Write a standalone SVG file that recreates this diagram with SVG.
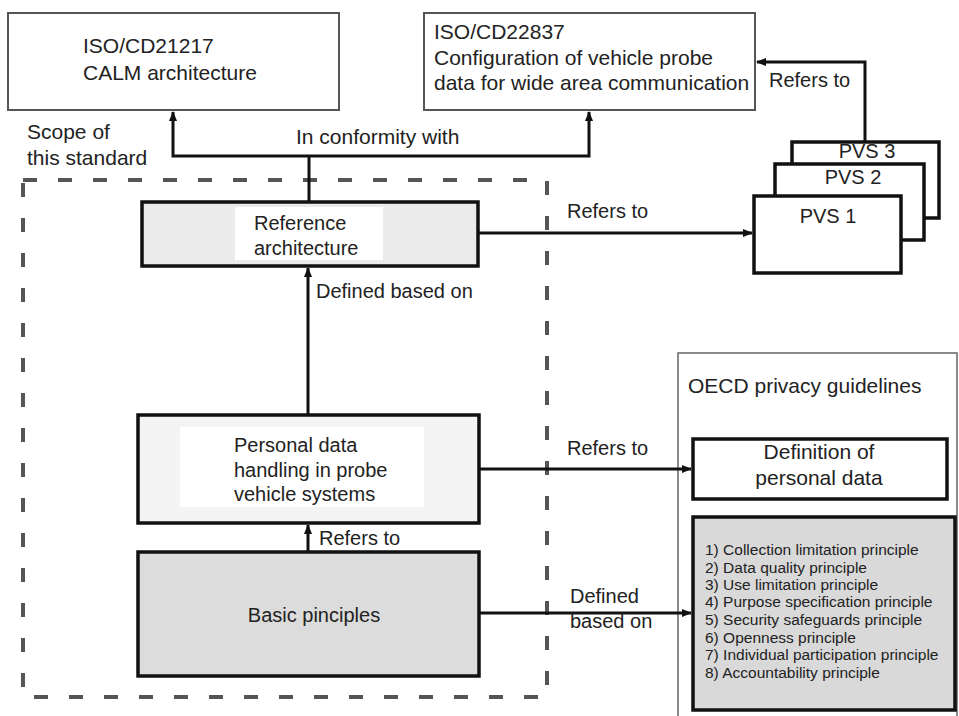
<svg xmlns="http://www.w3.org/2000/svg" width="959" height="716" viewBox="0 0 959 716">
<defs>
<style>
text{font-family:"Liberation Sans",Arial,sans-serif;fill:#222;}
.t21{font-size:21px;}
.t20{font-size:20px;}
.t15{font-size:15.5px;}
.iso{fill:#fff;stroke:#555;stroke-width:2;}
.node{stroke:#111;stroke-width:3.5;}
.pvs{fill:#fff;stroke:#111;stroke-width:3.5;}
.conn{fill:none;stroke:#111;stroke-width:3;}
.scope{fill:none;stroke:#555;stroke-width:4;stroke-dasharray:14 21;}
.outer{fill:none;stroke:#666;stroke-width:1.5;}
</style>
<marker id="ah" markerUnits="userSpaceOnUse" markerWidth="10" markerHeight="10" viewBox="0 0 10 10" refX="9" refY="5" orient="auto">
<path d="M0,1 L10,5 L0,9 Z" fill="#111"/>
</marker>
</defs>
<rect width="959" height="716" fill="#fff"/>

<!-- scope of this standard (dashed) -->
<rect class="scope" x="23" y="180" width="524" height="517"/>
<text class="t21" x="27" y="139">Scope of</text>
<text class="t21" x="27" y="165">this standard</text>

<!-- OECD outer -->
<g id="oecd">
<path class="outer" d="M678,716 V353 H957 V716"/>
<text class="t21" x="688" y="393">OECD privacy guidelines</text>
</g>

<g id="iso21217">
<rect class="iso" x="8" y="13" width="331" height="97"/>
<text class="t21" x="83" y="53">ISO/CD21217</text>
<text class="t21" x="83" y="80">CALM architecture</text>
</g>

<g id="iso22837">
<rect class="iso" x="424" y="13" width="331" height="97"/>
<text class="t21" x="434" y="39">ISO/CD22837</text>
<text class="t21" x="434" y="65">Configuration of vehicle probe</text>
<text class="t21" x="434" y="90">data for wide area communication</text>
</g>

<g id="pvs3">
<rect class="pvs" x="792" y="142" width="147" height="76"/>
<text class="t20" x="867" y="158" text-anchor="middle">PVS 3</text>
</g>
<g id="pvs2">
<rect class="pvs" x="775" y="164" width="149" height="76"/>
<text class="t20" x="853" y="184" text-anchor="middle">PVS 2</text>
</g>
<g id="pvs1">
<rect class="pvs" x="754" y="196" width="147" height="77"/>
<text class="t20" x="828" y="223" text-anchor="middle">PVS 1</text>
</g>

<g id="reference">
<rect class="node" x="142" y="202" width="336" height="64" fill="#ebebeb"/>
<rect x="235" y="207" width="148" height="53" fill="#fff"/>
<text class="t20" x="254" y="230">Reference</text>
<text class="t20" x="254" y="255">architecture</text>
</g>

<g id="personal">
<rect class="node" x="138" y="415" width="341" height="108" fill="#f4f4f4"/>
<rect x="180" y="427" width="244" height="80" fill="#fff"/>
<text class="t20" x="234" y="452">Personal data</text>
<text class="t20" x="234" y="477">handling in probe</text>
<text class="t20" x="234" y="501">vehicle systems</text>
</g>

<g id="basic">
<rect class="node" x="138" y="552" width="341" height="124" fill="#dcdcdc"/>
<text class="t20" x="314" y="622" text-anchor="middle">Basic pinciples</text>
</g>

<g id="definition">
<rect class="node" x="693" y="439" width="254" height="60" fill="#fff"/>
<text class="t21" x="819" y="459" text-anchor="middle">Definition of</text>
<text class="t21" x="819" y="485" text-anchor="middle">personal data</text>
</g>

<g id="principles">
<rect class="node" x="693" y="517" width="262" height="193" fill="#d9d9d9"/>
<text class="t15" x="705" y="555">1) Collection limitation principle</text>
<text class="t15" x="705" y="573">2) Data quality principle</text>
<text class="t15" x="705" y="590">3) Use limitation principle</text>
<text class="t15" x="705" y="607">4) Purpose specification principle</text>
<text class="t15" x="705" y="625">5) Security safeguards principle</text>
<text class="t15" x="705" y="643">6) Openness principle</text>
<text class="t15" x="705" y="660">7) Individual participation principle</text>
<text class="t15" x="705" y="678">8) Accountability principle</text>
</g>

<g id="connectors">
<path class="conn" d="M309,202 V156"/>
<path class="conn" d="M309,156 H173 V112" marker-end="url(#ah)"/>
<path class="conn" d="M309,156 H589 V112" marker-end="url(#ah)"/>
<text class="t21" x="296" y="144">In conformity with</text>

<path class="conn" d="M865,142 V62 H757" marker-end="url(#ah)"/>
<text class="t20" x="769" y="87">Refers to</text>

<path class="conn" d="M478,233 H752" marker-end="url(#ah)"/>
<text class="t20" x="567" y="218">Refers to</text>

<path class="conn" d="M308,415 V268" marker-end="url(#ah)"/>
<text class="t20" x="316" y="298">Defined based on</text>

<path class="conn" d="M308,552 V525" marker-end="url(#ah)"/>
<text class="t20" x="319" y="545">Refers to</text>

<path class="conn" d="M479,469 H691" marker-end="url(#ah)"/>
<text class="t20" x="567" y="455">Refers to</text>

<rect x="562" y="583" width="106" height="52" fill="#fff"/>
<path class="conn" d="M479,613 H691" marker-end="url(#ah)"/>
<text class="t20" x="570" y="603">Defined</text>
<text class="t20" x="570" y="628">based on</text>
</g>
</svg>
